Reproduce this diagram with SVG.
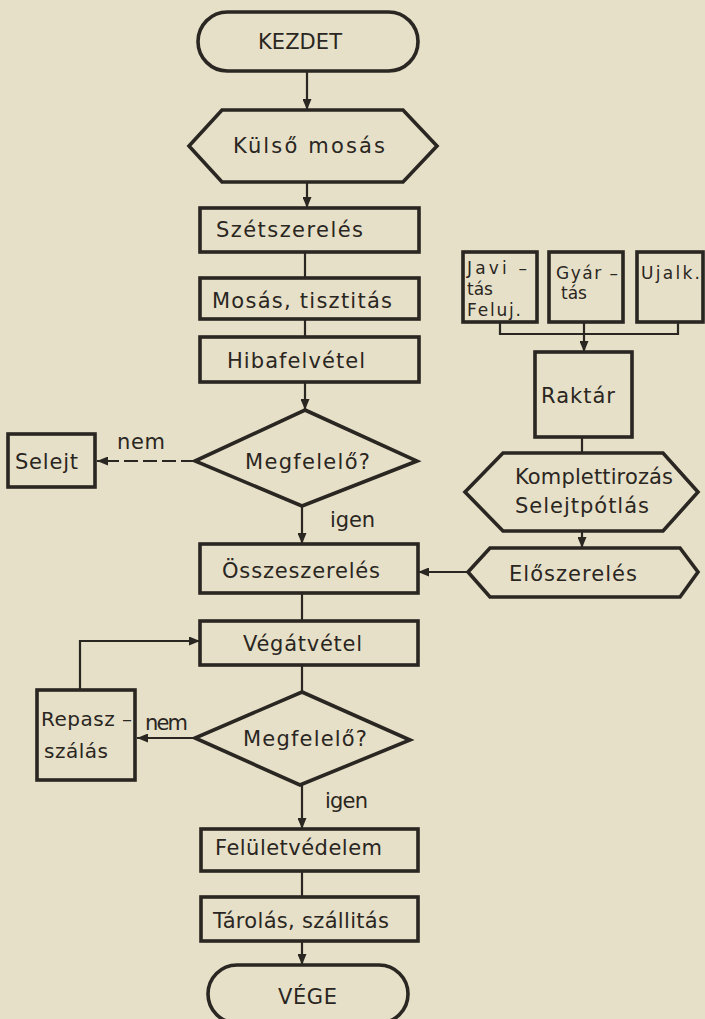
<svg xmlns="http://www.w3.org/2000/svg" width="705" height="1019" viewBox="0 0 705 1019">
<defs>
<marker id="ah" markerUnits="userSpaceOnUse" markerWidth="11" markerHeight="9" refX="11" refY="4.5" orient="auto">
<path d="M0,0 L11,4.5 L0,9 z" fill="#2a2621"/>
</marker>
<style>
.n{fill:none;stroke:#2a2621;stroke-width:3.6;stroke-linejoin:miter}
.c{fill:none;stroke:#2a2621;stroke-width:2.2}
.a{marker-end:url(#ah)}
.d{stroke-dasharray:14 5}
text{font-family:"DejaVu Sans","Liberation Sans",sans-serif;font-size:21px;fill:#2a2621}
text.s{font-size:20px}
text.t{font-size:17px}
</style>
</defs>
<rect width="705" height="1019" fill="#e6e0c9"/>
<g id="connectors">
<path class="c a" d="M307,71 V110"/>
<path class="c a" d="M307,182 V208"/>
<path class="c" d="M305,252 V278"/>
<path class="c" d="M305,319 V337"/>
<path class="c a" d="M305,382 V410"/>
<path class="c a d" d="M195,461 H97"/>
<path class="c a" d="M302,506 V544"/>
<path class="c a" d="M468,572 H418"/>
<path class="c" d="M500,322 V334 H678 V322"/>
<path class="c a" d="M584,322 V352"/>
<path class="c" d="M582,437 V453"/>
<path class="c a" d="M582,531 V548"/>
<path class="c" d="M302,593 V621"/>
<path class="c" d="M302,665 V692"/>
<path class="c a" d="M195,738 H137"/>
<path class="c a" d="M80,690 V641 H200"/>
<path class="c a" d="M302,785 V829"/>
<path class="c" d="M302,871 V897"/>
<path class="c a" d="M302,941 V965"/>
</g>
<g id="kezdet">
<rect class="n" x="198" y="12" width="220" height="59" rx="29.5"/>
<text x="258" y="49" textLength="84">KEZDET</text>
</g>
<g id="kulso-mosas">
<path class="n" d="M189,146 L222,110 H403 L437,146 L403,182 H222 Z"/>
<text x="233" y="153" textLength="152">Külső  mosás</text>
</g>
<g id="szetszereles">
<rect class="n" x="200" y="208" width="219" height="44"/>
<text x="216" y="237" textLength="147">Szétszerelés</text>
</g>
<g id="mosas-tisztitas">
<rect class="n" x="200" y="278" width="219" height="41"/>
<text x="212" y="308" textLength="180">Mosás, tisztitás</text>
</g>
<g id="hibafelvetel">
<rect class="n" x="200" y="337" width="219" height="45"/>
<text x="227" y="368" textLength="138">Hibafelvétel</text>
</g>
<g id="megfelelo1">
<path class="n" d="M305,410 L417,461 L302,506 L195,461 Z"/>
<text x="245" y="469" textLength="125">Megfelelő?</text>
</g>
<g id="selejt">
<rect class="n" x="8" y="434" width="87" height="53"/>
<text x="15" y="469" textLength="63">Selejt</text>
</g>
<text x="117" y="449" textLength="48">nem</text>
<text x="330" y="527" textLength="45">igen</text>
<g id="osszeszereles">
<rect class="n" x="200" y="544" width="218" height="49"/>
<text x="222" y="578" textLength="158">Összeszerelés</text>
</g>
<g id="javitas">
<rect class="n" x="463" y="252" width="74" height="70"/>
<text class="t" x="467" y="274" textLength="60">Javi –</text>
<text class="t" x="467" y="295">tás</text>
<text class="t" x="467" y="316" textLength="54">Feluj.</text>
</g>
<g id="gyartas">
<rect class="n" x="549" y="252" width="74" height="70"/>
<text class="t" x="556" y="279" textLength="62">Gyár –</text>
<text class="t" x="561" y="299">tás</text>
</g>
<g id="ujalk">
<rect class="n" x="637" y="252" width="66" height="70"/>
<text class="t" x="641" y="279" textLength="59">Ujalk.</text>
</g>
<g id="raktar">
<rect class="n" x="535" y="352" width="97" height="85"/>
<text x="541" y="403" textLength="74">Raktár</text>
</g>
<g id="komplettirozas">
<path class="n" d="M465,492 L503,453 H663 L698,492 L663,531 H503 Z"/>
<text x="515" y="484" textLength="158">Komplettirozás</text>
<text x="515" y="513" textLength="134">Selejtpótlás</text>
</g>
<g id="eloszereles">
<path class="n" d="M468,572 L490,548 H680 L698,572 L680,597 H490 Z"/>
<text x="509" y="581" textLength="128">Előszerelés</text>
</g>
<g id="vegatvetel">
<rect class="n" x="200" y="621" width="218" height="44"/>
<text x="243" y="651" textLength="119">Végátvétel</text>
</g>
<g id="megfelelo2">
<path class="n" d="M302,692 L410,740 L300,785 L195,738 Z"/>
<text x="243" y="746" textLength="124">Megfelelő?</text>
</g>
<g id="repaszszalas">
<rect class="n" x="37" y="690" width="98" height="90"/>
<text class="s" x="41" y="726" textLength="91">Repasz –</text>
<text class="s" x="44" y="758" textLength="64">szálás</text>
</g>
<text x="145" y="730" textLength="43">nem</text>
<text x="325" y="808" textLength="43">igen</text>
<g id="feluletvedelem">
<rect class="n" x="201" y="829" width="217" height="42"/>
<text x="215" y="855" textLength="167">Felületvédelem</text>
</g>
<g id="tarolas">
<rect class="n" x="201" y="897" width="217" height="44"/>
<text x="213" y="928" textLength="176">Tárolás, szállitás</text>
</g>
<g id="vege">
<rect class="n" x="208" y="965" width="200" height="58" rx="29"/>
<text x="278" y="1004" textLength="59">VÉGE</text>
</g>
</svg>
